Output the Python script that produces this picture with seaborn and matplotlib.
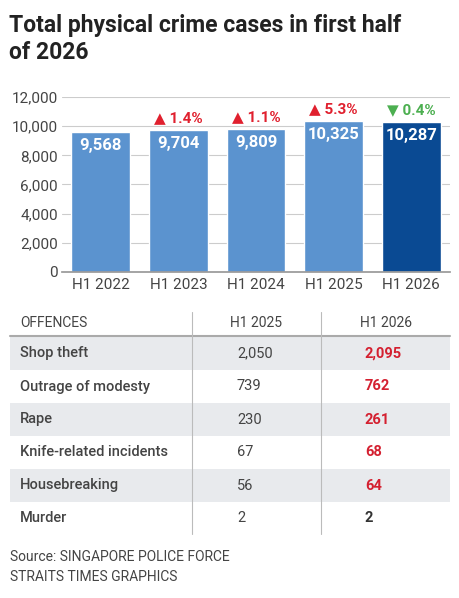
import matplotlib
matplotlib.use("Agg")
import matplotlib.pyplot as plt
import seaborn as sns
import pandas as pd

years = ["H1 2022", "H1 2023", "H1 2024", "H1 2025", "H1 2026"]
cases = [9568, 9704, 9809, 10325, 10287]
changes = ["", "1.4%", "1.1%", "5.3%", "0.4%"]
going_up = [None, True, True, True, False]

offences = ["Shop theft", "Outrage of modesty", "Rape", "Knife-related incidents", "Housebreaking", "Murder"]
h1_2025 = ["2,050", "739", "230", "67", "56", "2"]
h1_2026 = ["2,095", "762", "261", "68", "64", "2"]
h1_2026_up = [True, True, True, True, True, False]

sns.set_theme(style="white")
plt.rcParams['font.family'] = ['Roboto', 'DejaVu Sans']

light = "#5b93cf"
dark = "#0a4a93"
red = "#e0202e"
green = "#4caf50"
grey = "#444444"

fig = plt.figure(figsize=(4.6, 5.98), dpi=100)

# background axes in pixel coordinates for title, table and source
bg = fig.add_axes([0, 0, 1, 1])
bg.set_xlim(0, 460)
bg.set_ylim(598, 0)
bg.axis("off")

bg.text(9, 14, "Total physical crime cases in first half\nof 2026", fontsize=16.5, fontweight="bold",
        color="#222222", va="top", linespacing=1.2)

# bar chart
ax = fig.add_axes([62 / 460, 1 - 272 / 598, 388 / 460, 175 / 598])
df = pd.DataFrame({"year": years, "cases": cases})
palette = [light] * 4 + [dark]
sns.barplot(data=df, x="year", y="cases", hue="year", palette=palette, legend=False,
            width=0.76, saturation=1, ax=ax)
ax.set_ylim(0, 12000)
ax.set_yticks(range(0, 12001, 2000))
ax.set_yticklabels([f"{v:,}" for v in range(0, 12001, 2000)], fontsize=11, color=grey)
ax.tick_params(axis="x", labelsize=11, colors=grey, length=0, pad=4)
ax.tick_params(axis="y", length=0, pad=3)
ax.set_xlabel("")
ax.set_ylabel("")
ax.grid(axis="y", color="#cccccc", lw=0.8)
ax.set_axisbelow(True)
ax.set_xlim(-0.5, 4.5)
for s in ["top", "right", "left"]:
    ax.spines[s].set_visible(False)
ax.spines["bottom"].set_color("#999999")
for i, v in enumerate(cases):
    ax.text(i, v - 400, f"{v:,}", ha="center", va="top", color="white", fontsize=12, fontweight="bold")
    if changes[i]:
        col = red if going_up[i] else green
        sym = "▲" if going_up[i] else "▼"
        ax.text(i, v + 350, f"{sym} {changes[i]}", ha="center", va="bottom", color=col,
                fontsize=11, fontweight="bold")

# table
bg.text(20, 323, "OFFENCES", fontsize=10, color=grey, va="center")
bg.text(256, 323, "H1 2025", fontsize=10, color=grey, va="center", ha="center")
bg.text(386, 323, "H1 2026", fontsize=10, color=grey, va="center", ha="center")
bg.plot([10, 450], [336, 336], color="#aaaaaa", lw=1.5)
row_h = 33
for i, name in enumerate(offences):
    top = 337 + i * row_h
    if i % 2 == 0:
        bg.add_patch(plt.Rectangle((10, top), 440, row_h, color="#e8eaed", lw=0))
    yc = top + row_h / 2
    bg.text(20, yc, name, fontsize=10.5, color=grey, va="center", fontweight="medium")
    bg.text(237, yc, h1_2025[i], fontsize=10.5, color=grey, va="center")
    bg.text(365, yc, h1_2026[i], fontsize=10.5, va="center", fontweight="bold",
            color="#d42030" if h1_2026_up[i] else "#333333")
bg.plot([192, 192], [312, 534], color="#bbbbbb", lw=0.8)
bg.plot([321, 321], [312, 534], color="#bbbbbb", lw=0.8)

bg.text(10, 567, "Source: SINGAPORE POLICE FORCE\nSTRAITS TIMES GRAPHICS", fontsize=10, color=grey,
        va="center", linespacing=1.6)

fig.savefig("out.png", dpi=100)
